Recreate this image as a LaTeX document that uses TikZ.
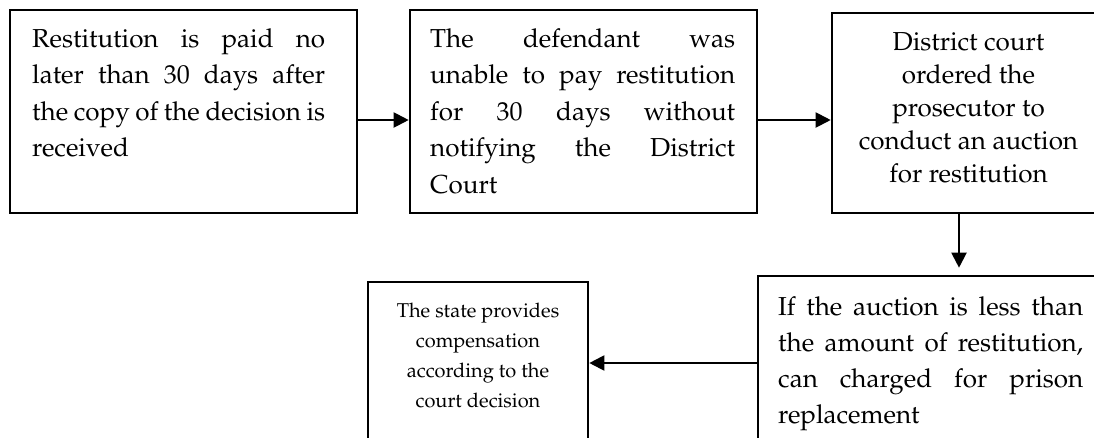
\documentclass[tikz,border=0pt]{standalone}
\usepackage[T1]{fontenc}
\usepackage{mathpazo}
\usetikzlibrary{arrows.meta}
\tikzset{
  box/.style={draw=black, line width=2.6pt, inner sep=0pt, fill=none},
  arr/.style={line width=2pt, -{Triangle[length=15pt,width=15pt]}},
  txt/.style={inner sep=0pt, anchor=base west},
  ctxt/.style={inner sep=0pt, anchor=base},
}
\newcommand{\bigtext}{\fontsize{26}{36.5}\selectfont\hyphenpenalty=10000\exhyphenpenalty=10000}
\newcommand{\ctrtext}{\fontsize{26}{33}\selectfont}
\newcommand{\smtext}{\fontsize{20}{30}\selectfont}
\begin{document}
\begin{tikzpicture}[x=1pt,y=1pt]
\useasboundingbox (0,0) rectangle (1094,-437);
\clip (0,0) rectangle (1094,-437);
% boxes
\node[box, minimum width=347pt, minimum height=203pt] (b1) at (183.5,-111.5) {};
\node[box, minimum width=347pt, minimum height=203pt] (b2) at (583.5,-111.5) {};
\node[box, minimum width=278pt, minimum height=200pt] (b3) at (971,-113) {};
\node[box, minimum width=352pt, minimum height=184pt] (b4) at (934,-368) {};
\node[box, minimum width=220pt, minimum height=178pt] (b5) at (478,-371) {};
% texts
\node[txt] (t1) at (32,-47) {\parbox[t]{293pt}{\bigtext Restitution is paid no\linebreak later than 30 days after\linebreak the copy of the decision is\linebreak received}};
\node[txt] (t2) at (430,-47) {\parbox[t]{305pt}{\bigtext The defendant was\linebreak unable to pay restitution\linebreak for 30 days without\linebreak notifying the District\linebreak Court}};
\node[ctxt] (t3) at (968.5,-50) {\parbox[t]{270pt}{\centering\ctrtext District court\\ ordered the\\ prosecutor to\\ conduct an auction\\ for restitution}};
\node[txt] (t4) at (778,-315) {\parbox[t]{305pt}{\fontsize{26}{36.3}\selectfont\hyphenpenalty=10000 If the auction is less than\linebreak the amount of restitution,\linebreak can charged for prison\linebreak replacement}};
\node[ctxt] (t5) at (478,-317) {\parbox[t]{210pt}{\centering\smtext The state provides\\ compensation\\ according to the\\ court decision}};
% connectors
\coordinate (ya) at (0,-120);
\coordinate (xd) at (959,0);
\coordinate (yb) at (0,-363);
\draw[arr] (b1.east |- ya) -- (b2.west |- ya);
\draw[arr] (b2.east |- ya) -- (b3.west |- ya);
\draw[arr, shorten >=7pt] (b3.south -| xd) -- (b4.north -| xd);
\draw[arr] (b4.west |- yb) -- (b5.east |- yb);
\end{tikzpicture}
\end{document}
